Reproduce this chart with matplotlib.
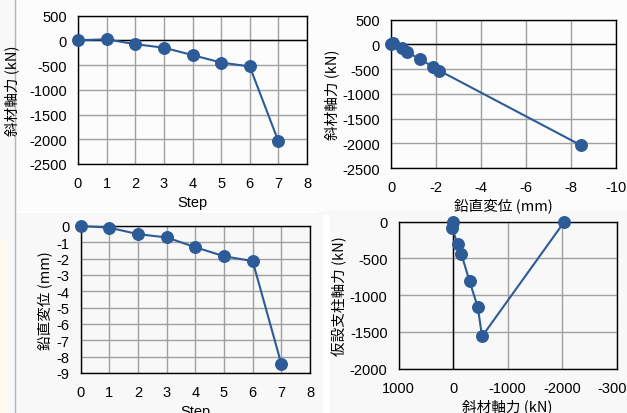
import numpy as np
import matplotlib
matplotlib.use("Agg")
import matplotlib.pyplot as plt
from matplotlib.patches import Rectangle
from matplotlib.lines import Line2D

# データ
steps = [0, 1, 2, 3, 4, 5, 6, 7]
diag_force = [0, 20, -80, -150, -300, -450, -530, -2040]        # 斜材軸力 (kN)
vert_disp = [0, -0.1, -0.5, -0.7, -1.3, -1.85, -2.15, -8.45]   # 鉛直変位 (mm)
diag_force_br = [0, 20, -80, -150, -300, -450, -530, -2040]     # 斜材軸力 (kN)
post_force = [0, -80, -310, -440, -810, -1160, -1560, 0]        # 仮設支柱軸力 (kN)

ticks_step = [0, 1, 2, 3, 4, 5, 6, 7, 8]
ticks_force = [500, 0, -500, -1000, -1500, -2000, -2500]
ticks_disp_x = [0, -2, -4, -6, -8, -10]
ticks_disp_y = [0, -1, -2, -3, -4, -5, -6, -7, -8, -9]
ticks_post_y = [0, -500, -1000, -1500, -2000]
ticks_force_x = [1000, 0, -1000, -2000, -3000]

plt.rcParams['font.family'] = ['Liberation Sans', 'Noto Sans CJK JP', 'DejaVu Sans']
JP = ['Noto Sans CJK JP', 'DejaVu Sans']
BLUE = '#2c5b98'
FS = 10.5

W, H = 627, 414
fig = plt.figure(figsize=(W / 100, H / 100), dpi=100, facecolor='#f8f8f8')


def px(x0, y0, x1, y1):
    return [x0 / W, 1 - y1 / H, (x1 - x0) / W, (y1 - y0) / H]


def bg_rect(x, y, w, h, color):
    fig.patches.append(Rectangle((x, y), w, h, transform=fig.transFigure,
                                 facecolor=color, edgecolor='none', zorder=-10))


# 背景の装飾
bg_rect(17 / W, 1 - 212 / H, 1 - 17 / W, 212 / H, '#fcfcfc')
bg_rect(0, 0, 8 / W, 174 / H, '#fdfbf0')
bg_rect(17 / W, 1 - 214 / H, 301 / W, 2 / H, 'white')
bg_rect(323 / W, 0, 7 / W, 1 - 216 / H, 'white')
fig.lines.append(Line2D([15 / W, 15 / W], [0, 1], transform=fig.transFigure,
                        color='#b5b5b5', lw=1, zorder=-9))


def style(ax, xticks, yticks, xlim, ylim):
    ax.set_facecolor('none')
    ax.set_xlim(*xlim)
    ax.set_ylim(*ylim)
    ax.set_xticks(xticks)
    ax.set_yticks(yticks)
    ax.set_xticklabels([str(t) for t in xticks])
    ax.set_yticklabels([str(t) for t in yticks])
    ax.grid(True, color='#a0a0a0', lw=1)
    ax.set_axisbelow(True)
    ax.tick_params(length=0, labelsize=FS, colors='black')
    ax.tick_params(axis='y', pad=8)
    ax.tick_params(axis='x', pad=9)
    for s in ax.spines.values():
        s.set_color('black')
        s.set_linewidth(1)
    for lab in ax.get_xticklabels() + ax.get_yticklabels():
        lab.set_clip_on(False)


def series(ax, x, y):
    ax.plot(x, y, color=BLUE, lw=1.5, marker='o', markersize=8.3,
            markerfacecolor=BLUE, markeredgecolor=BLUE, zorder=3, clip_on=False)


# 左上: Step - 斜材軸力
ax1 = fig.add_axes(px(78, 16.5, 307, 165))
style(ax1, ticks_step, ticks_force, (0, 8), (-2500, 500))
ax1.axhline(0, color='black', lw=1, zorder=2)
series(ax1, steps, diag_force)
ax1.set_xlabel('Step', fontsize=FS, labelpad=3)
ax1.set_ylabel('斜材軸力 (kN)', fontsize=FS, family=JP, labelpad=7)

# 右上: 鉛直変位 - 斜材軸力
ax2 = fig.add_axes(px(391, 20.7, 615.7, 169))
style(ax2, ticks_disp_x, ticks_force, (0, -10), (-2500, 500))
ax2.axhline(0, color='black', lw=1, zorder=2)
series(ax2, vert_disp, diag_force)
ax2.set_xlabel('鉛直変位 (mm)', fontsize=FS, family=JP, labelpad=2)
ax2.set_ylabel('斜材軸力 (kN)', fontsize=FS, family=JP, labelpad=2)

# 左下: Step - 鉛直変位
ax3 = fig.add_axes(px(80.7, 227, 310, 374))
style(ax3, ticks_step, ticks_disp_y, (0, 8), (-9, 0))
series(ax3, steps, vert_disp)
ax3.set_xlabel('Step', fontsize=FS, labelpad=3)
ax3.set_ylabel('鉛直変位 (mm)', fontsize=FS, family=JP, labelpad=3)

# 右下: 斜材軸力 - 仮設支柱軸力
ax4 = fig.add_axes(px(398.7, 222.7, 616.7, 369.7))
style(ax4, ticks_force_x, ticks_post_y, (1000, -3000), (-2000, 0))
ax4.axvline(0, color='black', lw=1, zorder=2)
series(ax4, diag_force_br, post_force)
ax4.set_xlabel('斜材軸力 (kN)', fontsize=FS, family=JP, labelpad=2)
ax4.set_ylabel('仮設支柱軸力 (kN)', fontsize=FS, family=JP, labelpad=2)

fig.savefig('out.png', dpi=100, facecolor=fig.get_facecolor())
